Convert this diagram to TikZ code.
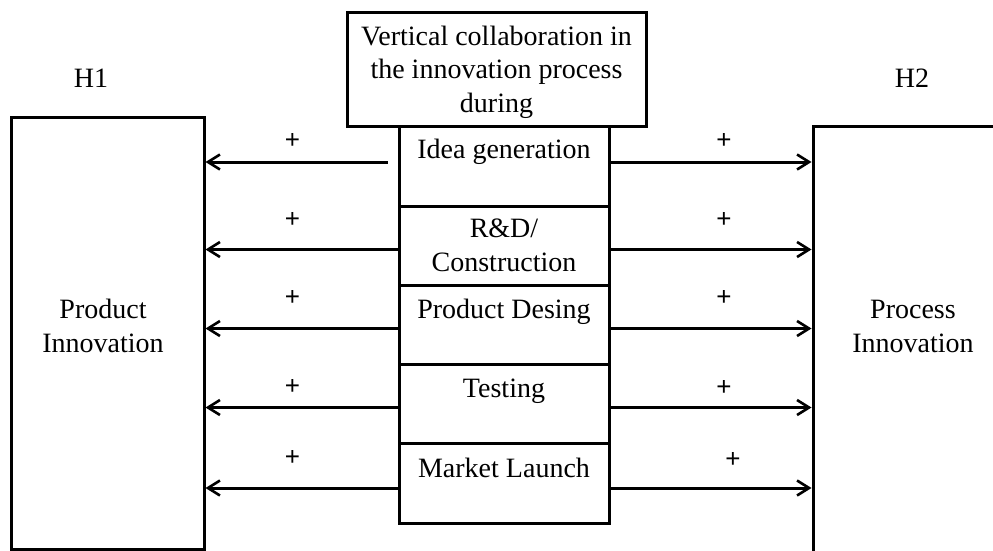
\documentclass[tikz,border=0pt]{standalone}
\usepackage{fontspec}
\setmainfont{Liberation Serif}
\newfontfamily\plusfont{Liberation Sans}
\usetikzlibrary{arrows.meta}
\tikzset{
  box/.style={draw, line width=3pt, inner sep=0pt},
  txt/.style={font=\fontsize{28}{33.5}\selectfont, align=center, inner sep=0pt, anchor=base},
  plus/.style={font=\plusfont\fontsize{26}{28}\selectfont, inner sep=0pt},
  arr/.style={line width=3pt, -{Straight Barb[length=12pt,width=15pt,line width=2.6pt]}}
}
\begin{document}
\begin{tikzpicture}[x=1pt,y=-1pt]
\useasboundingbox (0,0) rectangle (993,551);
\clip (0,0) rectangle (993,551);
% boxes
\node[box, minimum width=193pt, minimum height=432pt] (prod) at (107.5,333) {};
\node[box, minimum width=200pt, minimum height=450pt] (proc) at (913,351) {};
\node[box, minimum width=210pt, minimum height=80pt] (s1) at (504,166) {};
\node[box, minimum width=210pt, minimum height=79pt] (s2) at (504,245.5) {};
\node[box, minimum width=210pt, minimum height=79pt] (s3) at (504,324.5) {};
\node[box, minimum width=210pt, minimum height=79pt] (s4) at (504,403.5) {};
\node[box, minimum width=210pt, minimum height=80pt] (s5) at (504,483) {};
\node[box, fill=white, minimum width=299pt, minimum height=113pt] (top) at (496.5,69.5) {};
% texts
\node[txt] (ttop) at (496.5,112) {Vertical collaboration in\\the innovation process\\during};
\node[txt] (t1) at (504,158) {Idea generation};
\node[txt] (t2) at (504,271) {R\&D/\\Construction};
\node[txt] (t3) at (504,318) {Product Desing};
\node[txt] (t4) at (504,397) {Testing};
\node[txt] (t5) at (504,477) {Market Launch};
\node[txt] (h1) at (91,88) {H1};
\node[txt] (h2) at (912,88) {H2};
\node[txt] (tprod) at (103,352) {Product\\Innovation};
\node[txt] (tproc) at (913,352) {Process\\Innovation};
% arrows left
\draw[arr] ([xshift=-10pt,yshift=4pt]s1.west) -- ([yshift=4pt]s1.west -| prod.east);
\draw[arr] ([yshift=-4pt]s2.west) -- ([yshift=-4pt]s2.west -| prod.east);
\draw[arr] ([yshift=-4pt]s3.west) -- ([yshift=-4pt]s3.west -| prod.east);
\draw[arr] ([yshift=-4pt]s4.west) -- ([yshift=-4pt]s4.west -| prod.east);
\draw[arr] ([yshift=-5pt]s5.west) -- ([yshift=-5pt]s5.west -| prod.east);
% arrows right
\draw[arr] ([yshift=4pt]s1.east) -- ([yshift=4pt]s1.east -| proc.west);
\draw[arr] ([yshift=-4pt]s2.east) -- ([yshift=-4pt]s2.east -| proc.west);
\draw[arr] ([yshift=-4pt]s3.east) -- ([yshift=-4pt]s3.east -| proc.west);
\draw[arr] ([yshift=-4pt]s4.east) -- ([yshift=-4pt]s4.east -| proc.west);
\draw[arr] ([yshift=-5pt]s5.east) -- ([yshift=-5pt]s5.east -| proc.west);
% plus signs
\node[plus] (pl1) at (292.5,141) {+};
\node[plus] (pl2) at (292.5,220) {+};
\node[plus] (pl3) at (292.5,298) {+};
\node[plus] (pl4) at (292.5,387) {+};
\node[plus] (pl5) at (292.5,458) {+};
\node[plus] (pr1) at (724,141) {+};
\node[plus] (pr2) at (724,220) {+};
\node[plus] (pr3) at (724,298) {+};
\node[plus] (pr4) at (724,388) {+};
\node[plus] (pr5) at (733,460) {+};
\end{tikzpicture}
\end{document}
